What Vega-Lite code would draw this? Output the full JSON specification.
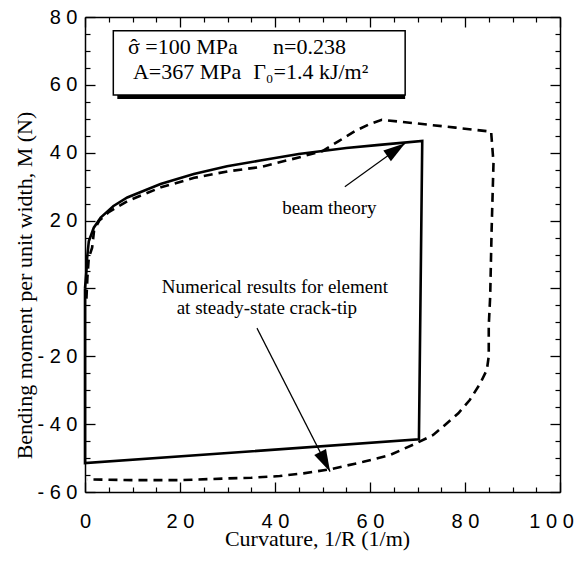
{
  "$schema": "https://vega.github.io/schema/vega-lite/v6.json",
  "width": 475,
  "height": 475,
  "autosize": {"type": "none"},
  "padding": {"left": 85, "top": 17, "right": 20, "bottom": 69},
  "background": "white",
  "config": {"view": {"stroke": null}, "axis": {"grid": false}},
  "datasets": {
    "curves": [
      {"s": "beam", "i": 0, "x": 0, "y": 0},
      {"s": "beam", "i": 1, "x": 0.3, "y": 5},
      {"s": "beam", "i": 2, "x": 0.45, "y": 9},
      {"s": "beam", "i": 3, "x": 0.8, "y": 13.9},
      {"s": "beam", "i": 4, "x": 1.85, "y": 17.9},
      {"s": "beam", "i": 5, "x": 3.3, "y": 20.9},
      {"s": "beam", "i": 6, "x": 6, "y": 24.3},
      {"s": "beam", "i": 7, "x": 8.9, "y": 26.8},
      {"s": "beam", "i": 8, "x": 15.9, "y": 30.8},
      {"s": "beam", "i": 9, "x": 22.9, "y": 33.7},
      {"s": "beam", "i": 10, "x": 29.9, "y": 36},
      {"s": "beam", "i": 11, "x": 36.9, "y": 37.7},
      {"s": "beam", "i": 12, "x": 45, "y": 39.6},
      {"s": "beam", "i": 13, "x": 50, "y": 40.5},
      {"s": "beam", "i": 14, "x": 55, "y": 41.4},
      {"s": "beam", "i": 15, "x": 62, "y": 42.3},
      {"s": "beam", "i": 16, "x": 71, "y": 43.5},
      {"s": "beam", "i": 17, "x": 70.3, "y": -44.5},
      {"s": "beam", "i": 18, "x": 0, "y": -51.5},
      {"s": "beam", "i": 19, "x": 0, "y": 0},
      {"s": "num", "i": 0, "x": 0.3, "y": -3},
      {"s": "num", "i": 1, "x": 0.5, "y": 3},
      {"s": "num", "i": 2, "x": 0.8, "y": 9},
      {"s": "num", "i": 3, "x": 1.5, "y": 12},
      {"s": "num", "i": 4, "x": 1.9, "y": 17},
      {"s": "num", "i": 5, "x": 3, "y": 20},
      {"s": "num", "i": 6, "x": 5, "y": 22.5},
      {"s": "num", "i": 7, "x": 9, "y": 25.8},
      {"s": "num", "i": 8, "x": 16, "y": 29.8},
      {"s": "num", "i": 9, "x": 23, "y": 32.6},
      {"s": "num", "i": 10, "x": 30, "y": 34.5},
      {"s": "num", "i": 11, "x": 37, "y": 35.8},
      {"s": "num", "i": 12, "x": 45, "y": 38.6},
      {"s": "num", "i": 13, "x": 50, "y": 40.5},
      {"s": "num", "i": 14, "x": 53.5, "y": 43.5},
      {"s": "num", "i": 15, "x": 57, "y": 46.5},
      {"s": "num", "i": 16, "x": 60, "y": 48.5},
      {"s": "num", "i": 17, "x": 62.5, "y": 49.7},
      {"s": "num", "i": 18, "x": 70, "y": 48.6},
      {"s": "num", "i": 19, "x": 78, "y": 47.4},
      {"s": "num", "i": 20, "x": 85.5, "y": 46.2},
      {"s": "num", "i": 21, "x": 86, "y": 37},
      {"s": "num", "i": 22, "x": 85.6, "y": 17},
      {"s": "num", "i": 23, "x": 85.3, "y": -2.4},
      {"s": "num", "i": 24, "x": 85, "y": -11},
      {"s": "num", "i": 25, "x": 85, "y": -20},
      {"s": "num", "i": 26, "x": 84.6, "y": -24},
      {"s": "num", "i": 27, "x": 83.2, "y": -28},
      {"s": "num", "i": 28, "x": 81, "y": -32.9},
      {"s": "num", "i": 29, "x": 78.6, "y": -36.8},
      {"s": "num", "i": 30, "x": 75.4, "y": -40.7},
      {"s": "num", "i": 31, "x": 73.3, "y": -43.2},
      {"s": "num", "i": 32, "x": 69.8, "y": -45.6},
      {"s": "num", "i": 33, "x": 64.2, "y": -49.1},
      {"s": "num", "i": 34, "x": 58.6, "y": -51.1},
      {"s": "num", "i": 35, "x": 51.6, "y": -53.3},
      {"s": "num", "i": 36, "x": 46, "y": -54.5},
      {"s": "num", "i": 37, "x": 41, "y": -55.3},
      {"s": "num", "i": 38, "x": 35, "y": -55.8},
      {"s": "num", "i": 39, "x": 30, "y": -56},
      {"s": "num", "i": 40, "x": 20, "y": -56.5},
      {"s": "num", "i": 41, "x": 10, "y": -56.5},
      {"s": "num", "i": 42, "x": 0.5, "y": -56.3}
    ],
    "box": [{"x1": 5.96, "x2": 67.4, "y1": 57.0, "y2": 75.95}],
    "boxtext": [
      {"x": 9.05, "y": 71.2, "t": "σ  =100 MPa"},
      {"x": 9.55, "y": 71.2, "t": "ˆ"},
      {"x": 39.6, "y": 71.2, "t": "n=0.238"},
      {"x": 10.1, "y": 63.9, "t": "A=367 MPa"},
      {"x": 35.4, "y": 63.9, "t": "Γ₀=1.4 kJ/m²"}
    ],
    "notes": [
      {"x": 41.5, "y": 23.7, "t": "beam theory"},
      {"x": 16.15, "y": 0.4, "t": "Numerical results for element"},
      {"x": 19.3, "y": -5.9, "t": "at steady-state crack-tip"}
    ],
    "arrows": [
      {"id": 1, "x": 54.7, "y": 30.0, "xe": 67.4, "ye": 42.8},
      {"id": 2, "x": 36.2, "y": -11.7, "xe": 51.6, "ye": -54.0}
    ]
  },
  "resolve": {"axis": {"x": "independent", "y": "independent"}},
  "layer": [
    {
      "data": {"name": "box"},
      "mark": {"type": "rect", "fill": "black", "xOffset": 4, "yOffset": 4},
      "encoding": {
        "x": {"field": "x1", "type": "quantitative", "scale": {"domain": [0, 100], "nice": false, "zero": false},
          "axis": {"orient": "bottom", "values": [5, 10, 15, 25, 30, 35, 45, 50, 55, 65, 70, 75, 85, 90, 95], "tickSize": -5, "tickWidth": 1.2, "tickColor": "black", "labels": false, "domain": false, "title": null}},
        "x2": {"field": "x2"},
        "y": {"field": "y1", "type": "quantitative", "scale": {"domain": [-60, 80], "nice": false, "zero": false},
          "axis": {"orient": "left", "values": [-55, -50, -45, -35, -30, -25, -15, -10, -5, 5, 10, 15, 25, 30, 35, 45, 50, 55, 65, 70, 75], "tickSize": -5, "tickWidth": 1.2, "tickColor": "black", "labels": false, "domain": false, "title": null}},
        "y2": {"field": "y2"}
      }
    },
    {
      "data": {"name": "box"},
      "mark": {"type": "rect", "fill": "white", "stroke": "black", "strokeWidth": 1.5},
      "encoding": {
        "x": {"field": "x1", "type": "quantitative", "scale": {"domain": [0, 100], "nice": false, "zero": false},
          "axis": {"orient": "top", "values": [5, 10, 15, 25, 30, 35, 45, 50, 55, 65, 70, 75, 85, 90, 95], "tickSize": -5, "tickWidth": 1.2, "tickColor": "black", "labels": false, "domain": false, "title": null}},
        "x2": {"field": "x2"},
        "y": {"field": "y1", "type": "quantitative", "scale": {"domain": [-60, 80], "nice": false, "zero": false},
          "axis": {"orient": "right", "values": [-55, -50, -45, -35, -30, -25, -15, -10, -5, 5, 10, 15, 25, 30, 35, 45, 50, 55, 65, 70, 75], "tickSize": -5, "tickWidth": 1.2, "tickColor": "black", "labels": false, "domain": false, "title": null}},
        "y2": {"field": "y2"}
      }
    },
    {
      "data": {"name": "curves"},
      "transform": [{"filter": "datum.s === 'beam'"}],
      "mark": {"type": "line", "color": "black", "strokeWidth": 2.6},
      "encoding": {
        "x": {"field": "x", "type": "quantitative", "scale": {"domain": [0, 100], "nice": false, "zero": false},
          "axis": {"orient": "bottom", "values": [0, 20, 40, 60, 80, 100], "tickSize": -10, "tickWidth": 1.3, "tickColor": "black", "domainColor": "black", "domainWidth": 1.5,
            "labelFont": "Liberation Sans", "labelFontSize": 20, "labelColor": "black", "labelPadding": 29, "labelFlush": false, "labelOverlap": false,
            "labelOffset": {"condition": {"test": "datum.value === 100", "value": -9}, "value": 0},
            "labelExpr": "join(split(toString(datum.value), ''), ' ')",
            "title": "Curvature,  1/R   (1/m)", "titleFont": "Liberation Serif", "titleFontSize": 22, "titleFontWeight": "normal", "titleColor": "black",
            "titleX": 232, "titleY": 53, "titleBaseline": "alphabetic", "titleAlign": "center"}},
        "y": {"field": "y", "type": "quantitative", "scale": {"domain": [-60, 80], "nice": false, "zero": false},
          "axis": {"orient": "left", "values": [-60, -40, -20, 0, 20, 40, 60, 80], "tickSize": -10, "tickWidth": 1.3, "tickColor": "black", "domainColor": "black", "domainWidth": 1.5,
            "labelFont": "Liberation Sans", "labelFontSize": 20, "labelColor": "black", "labelPadding": 18, "labelFlush": false, "labelOverlap": false,
            "labelExpr": "join(split(toString(datum.value), ''), ' ')",
            "title": "Bending moment per unit width,  M  (N)", "titleFont": "Liberation Serif", "titleFontSize": 22, "titleFontWeight": "normal", "titleColor": "black",
            "titleX": -54, "titleY": 268, "titleAngle": -90, "titleBaseline": "alphabetic", "titleAlign": "center"}},
        "order": {"field": "i", "type": "quantitative"}
      }
    },
    {
      "data": {"name": "curves"},
      "transform": [{"filter": "datum.s === 'num'"}],
      "mark": {"type": "line", "color": "black", "strokeWidth": 2.6, "strokeDash": [9, 6]},
      "encoding": {
        "x": {"field": "x", "type": "quantitative", "scale": {"domain": [0, 100], "nice": false, "zero": false},
          "axis": {"orient": "top", "values": [0, 20, 40, 60, 80, 100], "tickSize": -10, "tickWidth": 1.3, "tickColor": "black", "domainColor": "black", "domainWidth": 1.5, "labels": false, "title": null}},
        "y": {"field": "y", "type": "quantitative", "scale": {"domain": [-60, 80], "nice": false, "zero": false},
          "axis": {"orient": "right", "values": [-60, -40, -20, 0, 20, 40, 60, 80], "tickSize": -10, "tickWidth": 1.3, "tickColor": "black", "domainColor": "black", "domainWidth": 1.5, "labels": false, "title": null}},
        "order": {"field": "i", "type": "quantitative"}
      }
    },
    {
      "data": {"name": "boxtext"},
      "mark": {"type": "text", "align": "left", "baseline": "middle", "font": "Liberation Serif", "fontSize": 22, "color": "black"},
      "encoding": {
        "x": {"field": "x", "type": "quantitative", "axis": null},
        "y": {"field": "y", "type": "quantitative", "axis": null},
        "text": {"field": "t"}
      }
    },
    {
      "data": {"name": "notes"},
      "mark": {"type": "text", "align": "left", "baseline": "middle", "font": "Liberation Serif", "fontSize": 19, "color": "black"},
      "encoding": {
        "x": {"field": "x", "type": "quantitative", "axis": null},
        "y": {"field": "y", "type": "quantitative", "axis": null},
        "text": {"field": "t"}
      }
    },
    {
      "data": {"name": "arrows"},
      "mark": {"type": "rule", "color": "black", "strokeWidth": 1.2},
      "encoding": {
        "x": {"field": "x", "type": "quantitative", "axis": null},
        "y": {"field": "y", "type": "quantitative", "axis": null},
        "x2": {"field": "xe"},
        "y2": {"field": "ye"}
      }
    },
    {
      "data": {"name": "arrows"},
      "transform": [{"filter": "datum.id === 1"}],
      "mark": {"type": "point", "shape": "M0,0L-0.6,2L0.6,2Z", "filled": true, "color": "black", "opacity": 1, "size": 484, "angle": 55},
      "encoding": {
        "x": {"field": "xe", "type": "quantitative", "axis": null},
        "y": {"field": "ye", "type": "quantitative", "axis": null}
      }
    },
    {
      "data": {"name": "arrows"},
      "transform": [{"filter": "datum.id === 2"}],
      "mark": {"type": "point", "shape": "M0,0L-0.6,2L0.6,2Z", "filled": true, "color": "black", "opacity": 1, "size": 484, "angle": 153},
      "encoding": {
        "x": {"field": "xe", "type": "quantitative", "axis": null},
        "y": {"field": "ye", "type": "quantitative", "axis": null}
      }
    }
  ]
}
